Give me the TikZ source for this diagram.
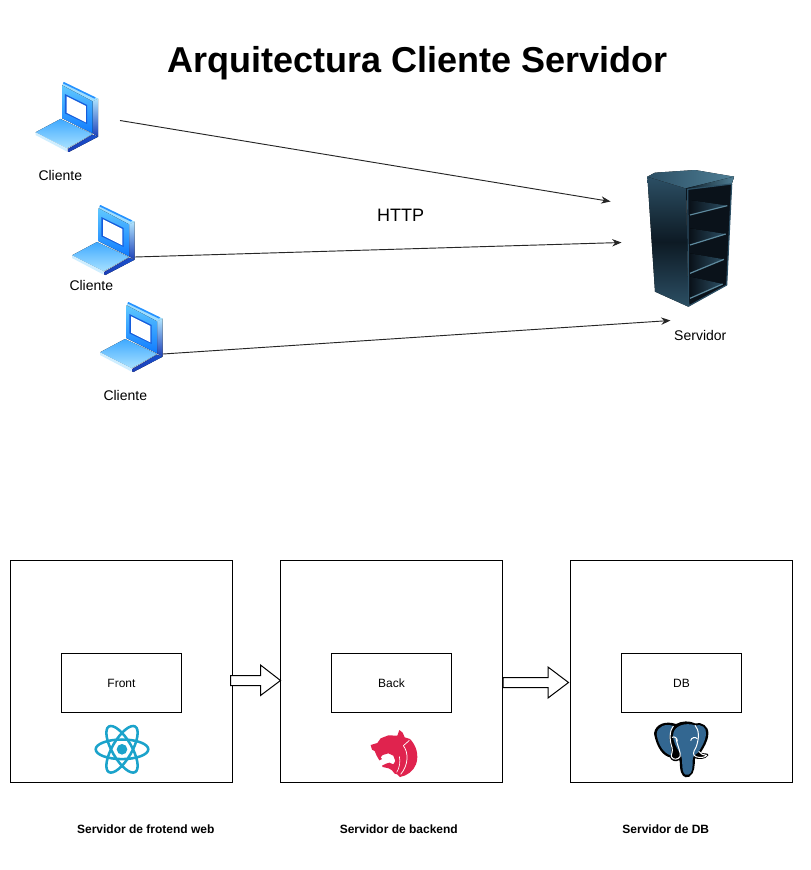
\documentclass[tikz,border=0pt]{standalone}
\usepackage{fontspec}
\setmainfont{Liberation Sans}
\usetikzlibrary{arrows.meta}
\tikzset{
  box/.style={draw=black,line width=.75pt,inner sep=0pt,minimum width=166.8pt,minimum height=166.4pt},
  innerbox/.style={draw=black,line width=.75pt,inner sep=0pt,minimum width=90pt,minimum height=44.7pt,font=\fontsize{9}{11}\selectfont},
  lbl/.style={inner sep=0pt,font=\fontsize{10.5}{13}\selectfont},
  boldlbl/.style={inner sep=0pt,font=\fontsize{9}{11}\selectfont\bfseries},
  link/.style={draw=black!85,line width=.7pt,-{Stealth[length=7pt,width=5.5pt]}},
  blockarrow/.style={draw=black,fill=white,line width=.75pt,line join=miter},
  icon/.style={x=.25pt,y=-.25pt,line join=round}
}
\definecolor{lapA}{HTML}{0F7BFF}
\definecolor{lapB}{HTML}{5FC8FF}
\definecolor{lapD}{HTML}{1C3FB8}
\definecolor{nest}{HTML}{E0234E}
\definecolor{reactc}{HTML}{1BA3CB}
\definecolor{pg}{HTML}{336791}
\definecolor{rackHi}{HTML}{4F7F96}
\definecolor{rackMid}{HTML}{2C4F64}
\definecolor{rackDk}{HTML}{0D1A24}
\definecolor{rackIn}{HTML}{0A121A}
\definecolor{rackEdge}{HTML}{5E8A9E}
\newcommand{\laptopicon}[3]{%
  \coordinate (#3) at (#1,#2);
  \begin{scope}[shift={(#1,#2)},icon]
    % right side of the lid
    \fill[top color=lapB!50!white,bottom color=lapD] (216,94)--(233,86)--(233,200)--(216,190)--cycle;
    % top edge of the lid
    \fill[lapB!60!white] (130,36)--(233,86)--(216,94)--(125,46)--cycle;
    \fill[lapA!70!lapB] (130,36)--(225,82)--(222,86)--(127,40)--cycle;
    % lid face
    \fill[top color=lapB,bottom color=lapA] (125,46)--(216,94)--(216,190)--(125,145)--cycle;
    % screen
    \fill[lapD!50!lapA] (133,72)--(200,105)--(200,162)--(133,130)--cycle;
    \fill[white] (138,79)--(196,108)--(196,157)--(138,128)--cycle;
    % keyboard
    \fill[top color=lapA!40!lapB,bottom color=lapB!55!white] (45,187)--(120,147)--(216,192)--(140,235)--cycle;
    % front edges
    \fill[white!70!lapB] (45,187)--(140,235)--(140,245)--(45,195)--cycle;
    \fill[left color=lapD,right color=lapD!70!lapA] (142,237)--(216,194)--(233,200)--(145,246)--(142,245)--cycle;
  \end{scope}}
\begin{document}
\begin{tikzpicture}[x=.75pt,y=-.75pt]
\useasboundingbox (0,0) rectangle (810,870);
\fill[white] (0,0) rectangle (810,870);

\node[inner sep=0pt,font=\fontsize{27}{32}\selectfont\bfseries] (title) at (417.5,63) {Arquitectura Cliente Servidor};

% laptops
\laptopicon{20.5}{70}{lapa}
\laptopicon{57}{193}{lapb}
\laptopicon{85}{290}{lapc}
\node[lbl] (cl1) at (60.3,175) {Cliente};
\node[lbl] (cl2) at (91.3,285) {Cliente};
\node[lbl] (cl3) at (125.3,395) {Cliente};

% server rack
\begin{scope}[shift={(620,160)},icon]
  \fill[rackIn] (198,85)--(335,70)--(320,375)--(205,440)--cycle;
  \fill[top color=rackMid,bottom color=rackMid,middle color=rackDk] (82,50)--(198,85)--(205,440)--(105,395)--cycle;
  \fill[left color=rackMid,right color=rackHi] (82,50)--(105,38)--(225,30)--(342,50)--(335,72)--(198,85)--cycle;
  \fill[left color=rackDk,right color=rackHi] (198,85)--(342,50)--(335,72)--(198,90)--cycle;
  \draw[rackMid,line width=.9pt] (203,88)--(335,72)--(320,375)--(206,438)--cycle;
  \foreach \a/\b/\c/\d in {120/322/137/165, 205/317/222/255, 280/312/298/340, 350/308/372/415}{
    \fill[left color=rackIn,right color=rackMid] (210,\a)--(\b,\c)--(210,\d)--cycle;
    \draw[rackEdge,line width=.9pt] (210,\d)--(\b,\c);
  }
\end{scope}
\coordinate (rack1) at (610.5,201.5);
\coordinate (rack2) at (621.5,242.5);
\coordinate (rack3) at (670.5,320.5);
\node[lbl] (srv) at (700.3,335) {Servidor};
\node[inner sep=0pt,font=\fontsize{13.5}{16}\selectfont] (http) at (400.5,215) {HTTP};

\coordinate (from1) at (120,120.5);
\coordinate (from2) at (135,257);
\coordinate (from3) at (163,354);
\draw[link] (from1) -- (rack1);
\draw[link] (from2) -- (rack2);
\draw[link] (from3) -- (rack3);

% lower row
\node[box] (bf) at (121.7,671.5) {};
\node[box] (bb) at (391.7,671.5) {};
\node[box] (bd) at (681.7,671.5) {};
\node[innerbox] (front) at (121.5,683) {Front};
\node[innerbox] (back) at (391.5,683) {Back};
\node[innerbox] (db) at (681.5,683) {DB};
\node[boldlbl] (lf) at (145.8,829) {Servidor de frotend web};
\node[boldlbl] (lb) at (398.8,829) {Servidor de backend};
\node[boldlbl] (ld) at (665.8,829) {Servidor de DB};

% block arrows
\draw[blockarrow] (230.5,675.5)--(260.5,675.5)--(260.5,665)--(280.5,680.5)--(260.5,695.5)--(260.5,685.5)--(230.5,685.5)--cycle;
\draw[blockarrow] (503,677.5)--(548,677.5)--(548,667)--(568.5,682.5)--(548,698)--(548,687.5)--(503,687.5)--cycle;

% React logo
\begin{scope}[shift={(122,749.3)}]
  \foreach \r in {0,60,120}
    \draw[reactc,line width=1.9pt,rotate=\r] (0,0) ellipse (26.3 and 9.8);
  \fill[reactc] (0,0) circle (5.3);
\end{scope}

% NestJS logo
\begin{scope}[shift={(360,715)},icon]
  \fill[nest] (32,90)--(52,84)--(62,70)--(85,61)--(112,62)--(118,45)--(128,53)--(134,67)--(150,72)
    .. controls (168,90) and (178,120) .. (168,148) .. controls (160,168) and (142,182) .. (120,186)
    --(112,178)--(104,176)--(96,166)--(86,160)--(68,156)--(66,152)--(78,146)--(88,143)--(100,148)
    --(106,138)--(100,122)--(85,115)--(68,120)--(62,127)--(66,132)--(58,136)--(50,122)--(44,108)--(36,104)--cycle;
  \draw[white,line width=.55pt] (148,76) .. controls (140,84) and (134,88) .. (130,92) .. controls (146,112) and (146,150) .. (122,178);
  \draw[white,line width=.45pt] (118,124) .. controls (122,140) and (118,160) .. (110,172);
\end{scope}

% PostgreSQL logo
\begin{scope}[shift={(640,710)},icon]
  \fill[black] (42,70) .. controls (46,40) and (80,32) .. (108,42) .. controls (125,32) and (150,32) .. (165,40)
    .. controls (185,35) and (207,48) .. (205,72) .. controls (204,95) and (190,115) .. (182,128)
    .. controls (195,132) and (206,128) .. (205,136) .. controls (195,150) and (175,148) .. (165,145)
    .. controls (164,165) and (165,190) .. (148,200) .. controls (132,207) and (122,195) .. (120,170)
    .. controls (120,160) and (119,155) .. (118,150) .. controls (108,158) and (92,152) .. (90,142)
    .. controls (70,138) and (50,115) .. (42,70)--cycle;
  \fill[pg] (50,72) .. controls (52,48) and (78,40) .. (100,48) .. controls (88,60) and (86,85) .. (92,108)
    .. controls (94,120) and (96,130) .. (92,136) .. controls (72,130) and (54,105) .. (50,72)--cycle;
  \fill[pg] (100,70) .. controls (104,48) and (135,36) .. (165,46) .. controls (185,42) and (200,52) .. (198,72)
    .. controls (196,95) and (184,112) .. (174,128) .. controls (164,135) and (158,138) .. (158,150)
    .. controls (158,170) and (158,190) .. (145,194) .. controls (132,198) and (128,185) .. (127,170)
    .. controls (126,155) and (128,145) .. (120,130) .. controls (112,115) and (96,95) .. (100,70)--cycle;
  \draw[white,line width=.75pt] (100,48) .. controls (88,62) and (88,90) .. (96,112) .. controls (100,125) and (92,135) .. (94,140)
    .. controls (100,152) and (115,148) .. (120,140) .. controls (124,128) and (112,108) .. (108,85);
  \draw[white,line width=.75pt] (165,46) .. controls (178,60) and (178,85) .. (168,112) .. controls (158,128) and (158,135) .. (168,140)
    .. controls (180,145) and (195,142) .. (200,136) .. controls (190,136) and (182,132) .. (176,124);
  \draw[white,line width=.75pt] (96,82) .. controls (104,78) and (112,84) .. (112,94);
  \draw[white,line width=.75pt] (152,92) .. controls (154,82) and (166,80) .. (172,86);
\end{scope}
\end{tikzpicture}
\end{document}
